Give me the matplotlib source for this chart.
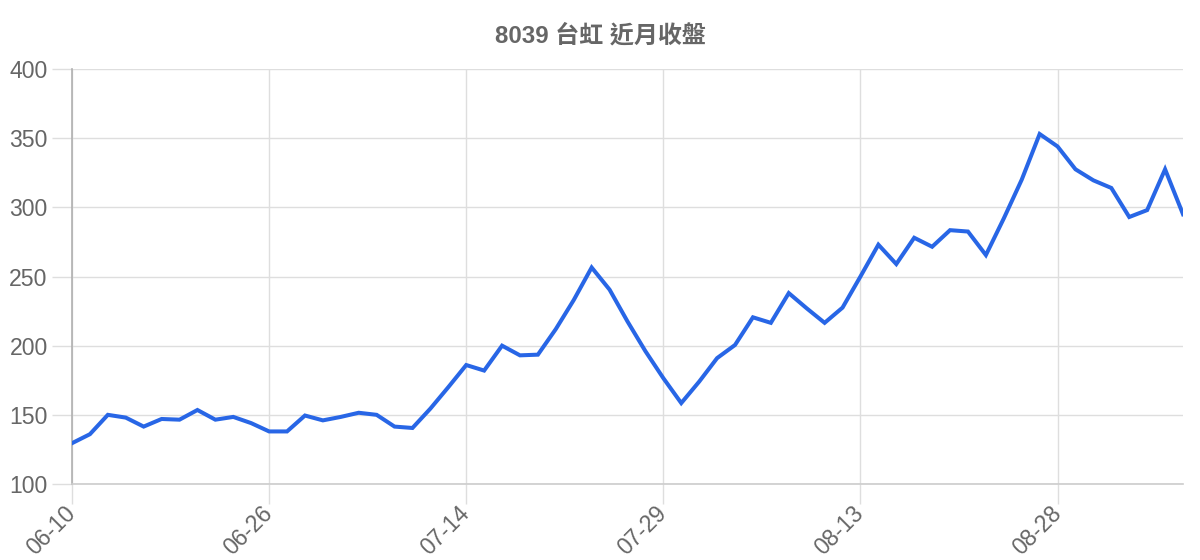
import matplotlib
matplotlib.use("Agg")
import matplotlib.pyplot as plt

plt.rcParams['font.family'] = ['Liberation Sans', 'Noto Sans CJK TC', 'DejaVu Sans']

title = "8039 台虹 近月收盤"
tick_labels = ["06-10", "06-26", "07-14", "07-29", "08-13", "08-28"]
tick_index = [0, 11, 22, 33, 44, 55]
close = [129.5, 136, 150, 148, 141.5, 147, 146.5, 153.5, 146.5, 148.5,
         144, 138, 138, 149.5, 146, 148.5, 151.5, 150, 141.5, 140.5,
         154.5, 170, 186, 182, 200, 193, 193.5, 212, 233, 256.5,
         240.5, 217.5, 196, 176.5, 158.5, 174, 191, 200.5, 220.5, 216.5,
         238, 227, 216.5, 227.5, 250, 273, 259, 278, 271.5, 283.5,
         282.5, 265.5, 292, 320, 353, 344, 327.5, 319.5, 314, 293,
         298, 327.5, 295]
y_ticks = [100, 150, 200, 250, 300, 350, 400]

fig = plt.figure(figsize=(12, 5.6), dpi=100)
ax = fig.add_axes([72/1200, 76/560, (1183-72)/1200, (484-69)/560])

x = list(range(len(close)))
ax.plot(x, close, color='#2866e6', lw=2.9, solid_joinstyle='miter', zorder=3)

ax.set_xlim(0, len(close) - 1)
ax.set_ylim(100, 400)
ax.set_yticks(y_ticks)
ax.set_yticklabels([str(v) for v in y_ticks])
ax.set_xticks(tick_index)
ax.set_xticklabels(tick_labels, rotation=45, ha='right', va='center', rotation_mode='anchor')

grid_c = '#dedede'
ax.grid(True, color=grid_c, lw=1.0, zorder=0)
for s in ['top', 'right']:
    ax.spines[s].set_visible(False)
ax.spines['left'].set_color('#b0b0b0')
ax.spines['left'].set_linewidth(1.2)
ax.spines['bottom'].set_color('#cccccc')
ax.spines['bottom'].set_linewidth(1.2)

ax.tick_params(axis='both', length=14.5, width=1.0, color=grid_c,
               labelsize=16.6, labelcolor='#666666')
ax.tick_params(axis='y', pad=3)
ax.tick_params(axis='x', pad=4)

fig.text(0.5, 1 - 36/560, title, ha='center', va='center', fontsize=17.3,
         fontweight='bold', color='#666666',
         family=['Liberation Sans', 'Noto Sans CJK TC', 'DejaVu Sans'])

fig.savefig('out.png', dpi=100, facecolor='white')
